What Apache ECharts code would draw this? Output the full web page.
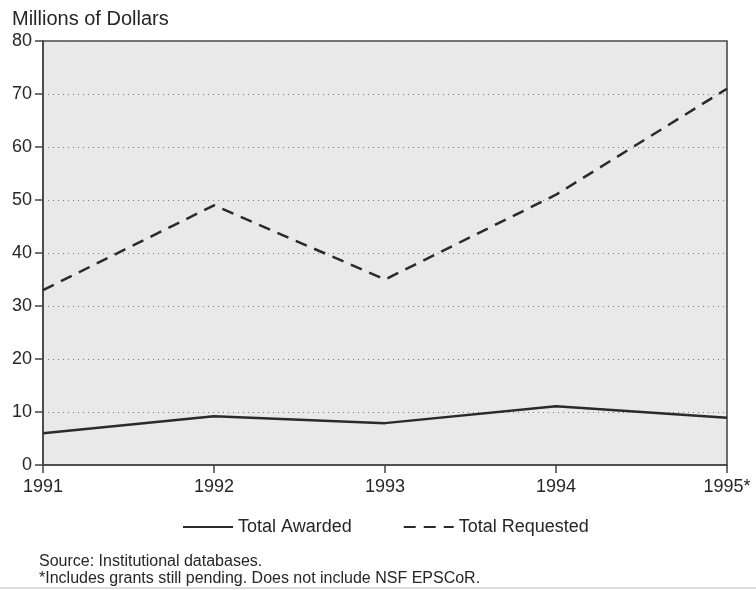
<!DOCTYPE html>
<html>
<head>
<meta charset="utf-8">
<script src="https://cdn.jsdelivr.net/npm/echarts@6/dist/echarts.min.js"></script>
<style>
html,body{margin:0;padding:0;background:#fff;}
#chart{width:756px;height:590px;}
</style>
</head>
<body>
<div id="chart"></div>
<script>
const years = ['1991', '1992', '1993', '1994', '1995*'];
const totalAwarded = [6.0, 9.2, 7.9, 11.1, 8.9];
const totalRequested = [33, 49, 35, 51, 71];
const yTicks = [0, 10, 20, 30, 40, 50, 60, 70, 80];

const chart = echarts.init(document.getElementById('chart'));
const font = 'Liberation Sans, Arial, sans-serif';
const ink = '#262626';
chart.setOption({
  backgroundColor: '#ffffff',
  animation: false,
  grid: {
    left: 43, right: 29, top: 41, bottom: 125,
    show: true, backgroundColor: '#e9e9e9', borderColor: '#4a4a4a', borderWidth: 1.6
  },
  graphic: [
    { type: 'text', style: { x: 12, y: 19, text: 'Millions of Dollars', font: '20px ' + font, fill: ink, verticalAlign: 'middle' } },
    { type: 'text', style: { x: 39, y: 562, text: 'Source: Institutional databases.', font: '16px ' + font, fill: ink, verticalAlign: 'middle' } },
    { type: 'text', style: { x: 39, y: 579, text: '*Includes grants still pending. Does not include NSF EPSCoR.', font: '16px ' + font, fill: ink, verticalAlign: 'middle' } },
    { type: 'line', shape: { x1: 0, y1: 588, x2: 756, y2: 588 }, style: { stroke: '#bbb', lineWidth: 1 } }
  ],
  legend: {
    top: 513, left: 177, itemGap: 51, itemWidth: 50, itemHeight: 14,
    itemStyle: { opacity: 0 },
    textStyle: { fontFamily: font, fontSize: 18, color: ink },
    data: ['Total Awarded', 'Total Requested']
  },
  xAxis: {
    type: 'category', data: years, boundaryGap: false,
    axisLine: { lineStyle: { color: '#444', width: 1.6 } },
    axisTick: { show: true, alignWithLabel: true, length: 8, lineStyle: { color: '#444', width: 1.5 } },
    axisLabel: { fontFamily: font, fontSize: 18, color: ink, margin: 13 },
    splitLine: { show: false }
  },
  yAxis: {
    type: 'value', min: 0, max: 80, interval: 10,
    axisLine: { show: true, lineStyle: { color: '#444', width: 1.6 } },
    axisTick: { show: true, length: 8, lineStyle: { color: '#444', width: 1.5 } },
    axisLabel: { fontFamily: font, fontSize: 18, color: ink, margin: 11,
      formatter: function (v) { return yTicks.indexOf(v) >= 0 ? String(v) : ''; } },
    splitLine: { show: true, lineStyle: { color: '#777', type: [1, 4], width: 1 } }
  },
  series: [
    { name: 'Total Awarded', type: 'line', data: totalAwarded, symbol: 'none',
      lineStyle: { color: '#2a2a2a', width: 2.5 }, itemStyle: { color: '#2a2a2a' } },
    { name: 'Total Requested', type: 'line', data: totalRequested, symbol: 'none',
      lineStyle: { color: '#2a2a2a', width: 2.5, type: [12, 8] }, itemStyle: { color: '#2a2a2a' } }
  ]
});
</script>
</body>
</html>
